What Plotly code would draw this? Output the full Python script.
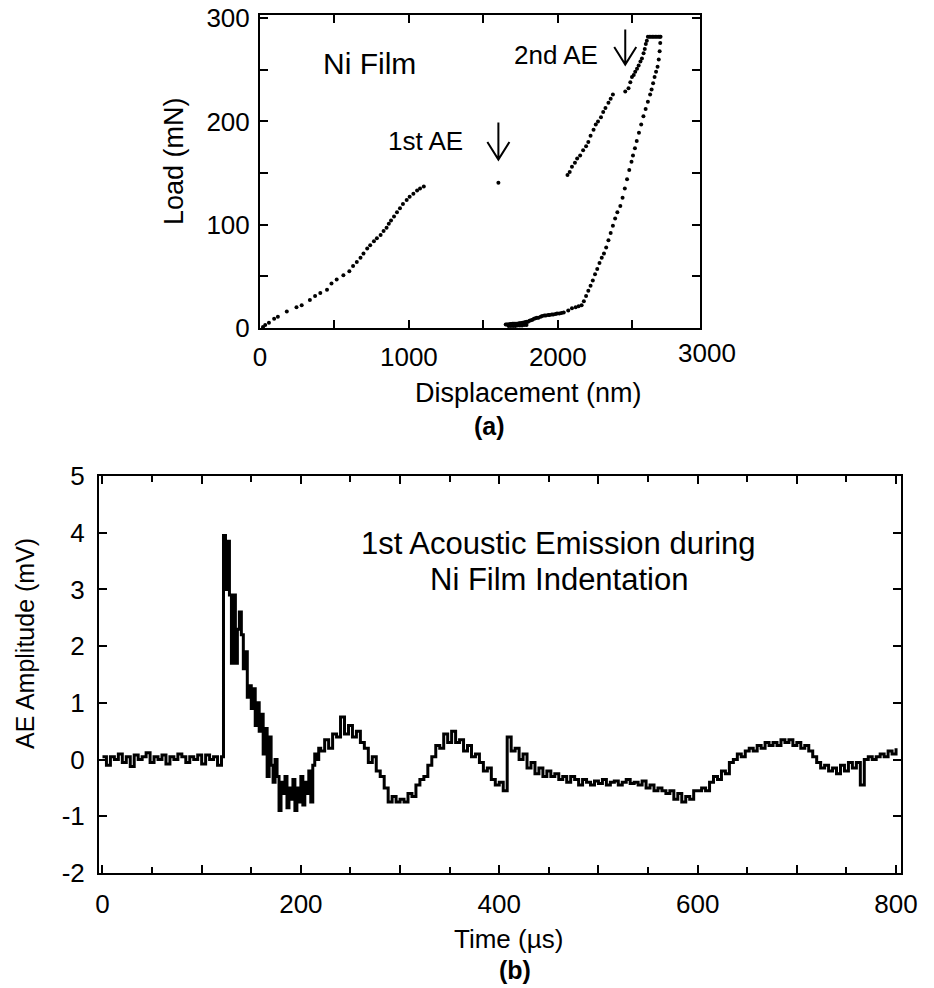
import numpy as np
import plotly.graph_objects as go

# ---------------- data: (a) load-displacement ----------------
load_disp = [20, 35, 60, 95, 120, 180, 245, 280, 335, 370, 405, 450, 480, 515, 560, 600, 625, 650,
             675, 695, 720, 740, 765, 785, 810, 830, 850, 865, 880, 900, 920, 940, 960, 985, 1005,
             1030, 1055, 1075, 1100]
load_load = [1, 3, 5, 9, 11, 16, 20, 22, 27, 31, 34, 37, 43, 47, 51, 55, 60, 64,
             68, 72, 77, 80, 84, 87, 90, 94, 97, 101, 104, 108, 112, 116, 120, 124, 127,
             130, 133, 135, 137]

ae1_disp = [1601]
ae1_load = [140.5]

reload_disp = [2065, 2080, 2095, 2115, 2130, 2150, 2170, 2190, 2205, 2220, 2240, 2255, 2270, 2290,
               2305, 2320, 2340, 2355, 2370,
               2453, 2475, 2487, 2498, 2510, 2520, 2532, 2543, 2555, 2565, 2576, 2584, 2591, 2598, 2605,
               2615, 2625, 2635, 2645, 2655, 2665, 2675, 2685]
reload_load = [148, 151, 156, 160, 164, 167, 172, 176, 180, 186, 192, 197, 200, 204,
               209, 213, 218, 222, 226,
               229, 232, 238, 243, 245, 248, 251, 254, 258, 261, 266, 270, 275, 278, 282,
               282, 282, 282, 282, 282, 282, 282, 282]

unload_disp = [2690, 2688, 2684, 2678, 2670, 2660, 2650, 2640, 2630, 2620, 2605, 2590, 2575, 2560,
               2545, 2530, 2518, 2505, 2495, 2480, 2465, 2450, 2435, 2420, 2400, 2385, 2370, 2355,
               2340, 2325, 2310, 2295, 2280, 2265, 2250, 2235, 2220, 2205, 2190, 2175, 2160, 2140,
               2120, 2095, 2070, 2040, 2025, 2010, 1995, 1985, 1970, 1960, 1945, 1935, 1920, 1910,
               1895, 1885, 1870, 1860, 1850, 1840, 1830, 1820, 1810, 1800, 1792, 1785, 1778, 1770,
               1762, 1755, 1748, 1740, 1732, 1725, 1718, 1710, 1702, 1695, 1688, 1680, 1672, 1665,
               1658, 1650, 1790, 1775, 1760, 1745, 1730, 1715, 1700, 1685, 1670]
unload_load = [282, 276, 268, 260, 253, 248, 243, 237, 231, 226, 219, 212, 205, 197,
               189, 181, 174, 167, 161, 153, 144, 135, 126, 118, 112, 106, 99, 92,
               85, 78, 72, 68, 63, 57, 52, 46, 41, 36, 31, 26, 22, 21,
               20, 19, 17, 15, 14.5, 14, 14, 13.5, 13, 13, 12.5, 12.5, 12, 12,
               11.5, 11, 10, 10, 9.5, 9, 8, 7.5, 7, 6, 6, 5.5, 5.5, 5,
               5, 4.5, 4.5, 4.5, 4, 4, 4, 4, 4, 4, 3.8, 3.8, 3.5, 3.5,
               3.5, 3.5, 3, 3, 2.5, 2.5, 2.5, 2, 2, 2, 2]

# arrows: (x, top load, tip load)
arrow_x = [1601, 2453]
arrow_top = [199, 289]
arrow_tip = [163, 255]

# ---------------- data: (b) AE signal ----------------
ae_v1 = [0.05, -0.1, 0.05, 0.0, 0.1, -0.05, 0.05, -0.12, 0.08, 0.0,
         0.05, 0.12, -0.05, 0.05, 0.0, 0.08, -0.08, 0.05, 0.0, 0.1,
         0.05, -0.05, 0.05, 0.0, 0.08, -0.08, 0.08, 0.0, 0.05, -0.1]          # t = 0..116 step 4
ae_v2 = [0.05, 3.95, 3.0, 3.85, 2.9, 1.7, 2.9, 1.7, 2.3, 2.6,
         2.2, 1.6, 1.9, 1.1, 1.3, 0.9, 1.25, 0.6, 1.0, 0.5,
         0.8, 0.1, 0.55, -0.3, 0.4, -0.1, -0.4, 0.0, -0.3, -0.9,
         -0.4, -0.6, -0.3, -0.85, -0.5, -0.7, -0.35, -0.9, -0.5, -0.75,
         -0.3, -0.8, -0.4, -0.6, -0.2, -0.75, -0.1, 0.1, 0.0, 0.2]              # t = 120..218 step 2
ae_v3 = [0.15, 0.35, 0.2, 0.45, 0.4, 0.75, 0.45, 0.6, 0.4, 0.5,
         0.3, 0.2, -0.05, 0.05, -0.2, -0.3, -0.5, -0.75, -0.65, -0.75,
         -0.7, -0.75, -0.6, -0.65, -0.45, -0.35, -0.3, -0.1, 0.05, 0.25,
         0.2, 0.45, 0.3, 0.5, 0.3, 0.35, 0.15, 0.25, 0.05, 0.1,
         -0.05, -0.2, -0.15, -0.35, -0.45, -0.4, -0.55, 0.4, 0.15, 0.2,
         0.0, 0.1, -0.15, -0.05, -0.25, -0.15, -0.3, -0.2, -0.3, -0.25,
         -0.35, -0.3, -0.4, -0.3, -0.35, -0.45, -0.35, -0.4, -0.45, -0.38,
         -0.42, -0.35, -0.45, -0.4, -0.38, -0.45, -0.4, -0.35, -0.42, -0.4,
         -0.45, -0.38, -0.5, -0.45, -0.55, -0.5, -0.55, -0.6, -0.55, -0.7,
         -0.6, -0.75, -0.65, -0.7, -0.55, -0.55, -0.5, -0.55, -0.4, -0.3,
         -0.35, -0.2, -0.25, -0.05, 0.0, 0.1, 0.05, 0.15, 0.2, 0.15,
         0.25, 0.2, 0.3, 0.25, 0.3, 0.25, 0.35, 0.3, 0.35, 0.25,
         0.3, 0.2, 0.25, 0.15, 0.05, -0.05, -0.15, -0.1, -0.2, -0.15,
         -0.25, -0.1, -0.2, -0.05, -0.15, -0.05, -0.45, 0.0, 0.05, 0.0,
         0.05, 0.1, 0.05, 0.15, 0.1, 0.2]                                       # t = 220..800 step 4

ae_y_ticks = [-2, -1, 0, 1, 2, 3, 4, 5]
ae_y_text = ["-2", "-1", "0", "1", "2", "3", "4", "5"]
ae_x_ticks = [0, 100, 200, 300, 400, 500, 600, 700, 800]
ae_x_text = ["0", "", "200", "", "400", "", "600", "", "800"]

t1 = 0 + 4 * np.arange(len(ae_v1))
t2 = 120 + 2 * np.arange(len(ae_v2))
t3 = 220 + 4 * np.arange(len(ae_v3))
ae_time = np.concatenate([t1, t2, t3])
ae_amp = np.array(ae_v1 + ae_v2 + ae_v3)

W, H = 934, 988
FONT = "Liberation Sans, Arial, Helvetica, sans-serif"


def px(x):
    return x / W


def py(y):
    return 1 - y / H


fig = go.Figure()
dot = dict(color="black", size=4)
for xs, ys in [(load_disp, load_load), (ae1_disp, ae1_load), (reload_disp, reload_load),
               (unload_disp, unload_load)]:
    fig.add_trace(go.Scatter(x=xs, y=ys, mode="markers", marker=dot, xaxis="x", yaxis="y",
                             showlegend=False, hoverinfo="skip"))

fig.add_trace(go.Scatter(x=ae_time, y=ae_amp, mode="lines", line=dict(color="black", width=3, shape="hv"),
                         xaxis="x2", yaxis="y2", showlegend=False, hoverinfo="skip"))

axcommon = dict(showline=True, linecolor="black", linewidth=2, mirror="ticks", ticks="inside",
                tickcolor="black", tickwidth=1.5, showgrid=False, zeroline=False, automargin=False,
                tickfont=dict(family=FONT, size=26, color="black"))

XD = [px(260), px(700)]
XR = [0, 2955]

fig.update_layout(
    template="none",
    width=W, height=H, margin=dict(l=0, r=0, t=0, b=0, pad=0, autoexpand=False),
    paper_bgcolor="white", plot_bgcolor="white", showlegend=False,
    font=dict(family=FONT, color="black"),
    xaxis=dict(domain=XD, range=XR, anchor="y",
               tickvals=[0, 1000, 2000], ticklen=8, ticklabelstandoff=5,
               minor=dict(dtick=500, ticks="inside", ticklen=8, tickcolor="black", tickwidth=1.5, showgrid=False),
               **axcommon),
    yaxis=dict(domain=[py(328), py(15)], range=[0, 303], anchor="x",
               tickvals=[0, 100, 200, 300], ticklen=8, ticklabelstandoff=3,
               minor=dict(dtick=50, ticks="inside", ticklen=8, tickcolor="black", tickwidth=1.5, showgrid=False),
               **axcommon),
    xaxis2=dict(domain=[px(99), px(901)], range=[-3.5, 805], anchor="y2",
                tickvals=ae_x_ticks, ticktext=ae_x_text,
                ticklen=8, ticklabelstandoff=7,
                minor=dict(dtick=50, ticks="inside", ticklen=6, tickcolor="black", tickwidth=1.5, showgrid=False),
                **axcommon),
    yaxis2=dict(domain=[py(873), py(476)], range=[-2, 5], anchor="x2",
                tickvals=ae_y_ticks, ticktext=ae_y_text, ticklen=8, ticklabelstandoff=7,
                **axcommon),
)

# "3000" tick label just beyond the plotted range (placed through the axis mapping)
x3000 = XD[0] + (3000 - XR[0]) / (XR[1] - XR[0]) * (XD[1] - XD[0])
fig.add_annotation(x=x3000, y=py(353), xref="paper", yref="paper", text="3000", showarrow=False,
                   xanchor="center", yanchor="middle", font=dict(family=FONT, size=26, color="black"))

# arrows
for xa, yt, yb in zip(arrow_x, arrow_top, arrow_tip):
    dx, dy = 74, 17
    path = f"M {xa},{yt} L {xa},{yb} M {xa - dx},{yb + dy} L {xa},{yb} L {xa + dx},{yb + dy}"
    fig.add_shape(type="path", path=path, xref="x", yref="y", line=dict(color="black", width=2))


def txt(x, y, s, size, bold=False, angle=0):
    fig.add_annotation(x=px(x), y=py(y), xref="paper", yref="paper", text=(f"<b>{s}</b>" if bold else s),
                       showarrow=False, xanchor="center", yanchor="middle", textangle=angle,
                       font=dict(family=FONT, size=size, color="black"))


txt(369, 63, "Ni Film", 30)
txt(425, 141, "1st AE", 26)
txt(556, 55, "2nd AE", 26)
txt(174, 161, "Load (mN)", 27, angle=-90)
txt(528, 393, "Displacement (nm)", 27)
txt(490, 426, "(a)", 25, bold=True)
txt(25, 644, "AE Amplitude (mV)", 25, angle=-90)
txt(508, 939, "Time (µs)", 26)
txt(515, 970, "(b)", 25, bold=True)
txt(558, 543, "1st Acoustic Emission during", 31)
txt(559, 579, "Ni Film Indentation", 31)

fig.write_html("out.html")
